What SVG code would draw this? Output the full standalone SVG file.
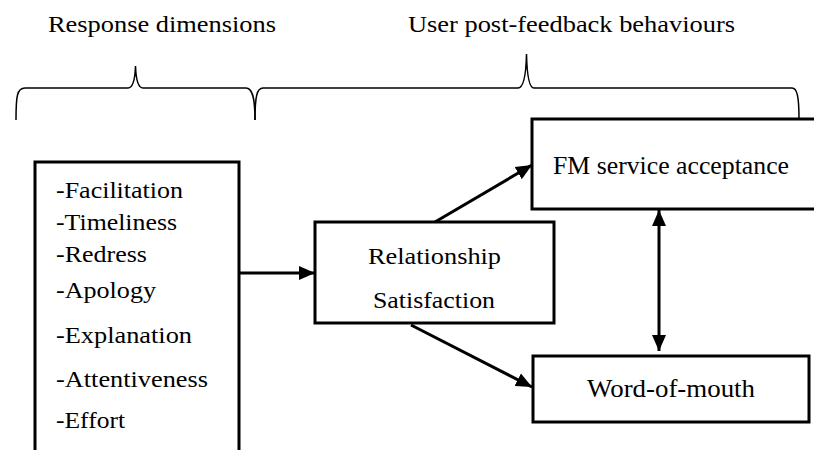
<svg xmlns="http://www.w3.org/2000/svg" width="814" height="450" viewBox="0 0 814 450">
<style>
text{font-family:"Liberation Serif","Times New Roman",serif;font-size:23px;fill:#000}
.mid{font-size:24px}
.big{font-size:25.5px}
.box{fill:#fff;stroke:#000;stroke-width:3}
.brace{fill:none;stroke:#000;stroke-width:1.5}
.conn{fill:none;stroke:#000;stroke-width:3}
</style>
<defs>
<marker id="ah" markerUnits="userSpaceOnUse" markerWidth="16" markerHeight="16" viewBox="0 0 16 16" refX="16" refY="8" orient="auto-start-reverse">
<path d="M0,1 L16,8 L0,15 Z" fill="#000"/>
</marker>
</defs>
<rect width="814" height="450" fill="#fff"/>
<g id="headers">
<text x="48" y="32" textLength="228" lengthAdjust="spacingAndGlyphs">Response dimensions</text>
<text x="408" y="32" textLength="327" lengthAdjust="spacingAndGlyphs">User post-feedback behaviours</text>
<path class="brace" d="M16,120 C16,96 17,88 25,88 L128,88 C133,88 135,80 135.5,66 C136,80 138,88 143,88 L246,88 C252,88 255,96 255,120"/>
<path class="brace" d="M255,120 C255,96 257,88 263,88 L518,88 C523,88 526,76 526.5,54 C527,76 529,88 534,88 L792,88 C797,88 799,96 799,119"/>
</g>
<g id="dimensions">
<rect class="box" x="35" y="162" width="204" height="300"/>
<text x="56" y="198" textLength="127" lengthAdjust="spacingAndGlyphs">-Facilitation</text>
<text x="56" y="230" textLength="121" lengthAdjust="spacingAndGlyphs">-Timeliness</text>
<text x="56" y="262" textLength="91" lengthAdjust="spacingAndGlyphs">-Redress</text>
<text x="56" y="298" textLength="100" lengthAdjust="spacingAndGlyphs">-Apology</text>
<text x="56" y="343" textLength="136" lengthAdjust="spacingAndGlyphs">-Explanation</text>
<text x="56" y="387" textLength="152" lengthAdjust="spacingAndGlyphs">-Attentiveness</text>
<text x="56" y="428" textLength="69" lengthAdjust="spacingAndGlyphs">-Effort</text>
</g>
<g id="satisfaction">
<rect class="box" x="315" y="222" width="239" height="101"/>
<text class="mid" x="368" y="264" textLength="133" lengthAdjust="spacingAndGlyphs">Relationship</text>
<text class="mid" x="373" y="308" textLength="122" lengthAdjust="spacingAndGlyphs">Satisfaction</text>
</g>
<g id="acceptance">
<rect class="box" x="532" y="119" width="300" height="90"/>
<text class="big" x="553" y="174" textLength="236" lengthAdjust="spacingAndGlyphs">FM service acceptance</text>
</g>
<g id="wom">
<rect class="box" x="533" y="356" width="276" height="66"/>
<text class="big" x="587" y="397" textLength="168" lengthAdjust="spacingAndGlyphs">Word-of-mouth</text>
</g>
<g id="connectors">
<line class="conn" x1="239" y1="273" x2="315" y2="273" marker-end="url(#ah)"/>
<line class="conn" x1="435" y1="222" x2="532" y2="165" marker-end="url(#ah)"/>
<line class="conn" x1="411" y1="325" x2="532" y2="387" marker-end="url(#ah)"/>
<line class="conn" x1="659" y1="210" x2="659" y2="351" marker-start="url(#ah)" marker-end="url(#ah)"/>
</g>
</svg>
